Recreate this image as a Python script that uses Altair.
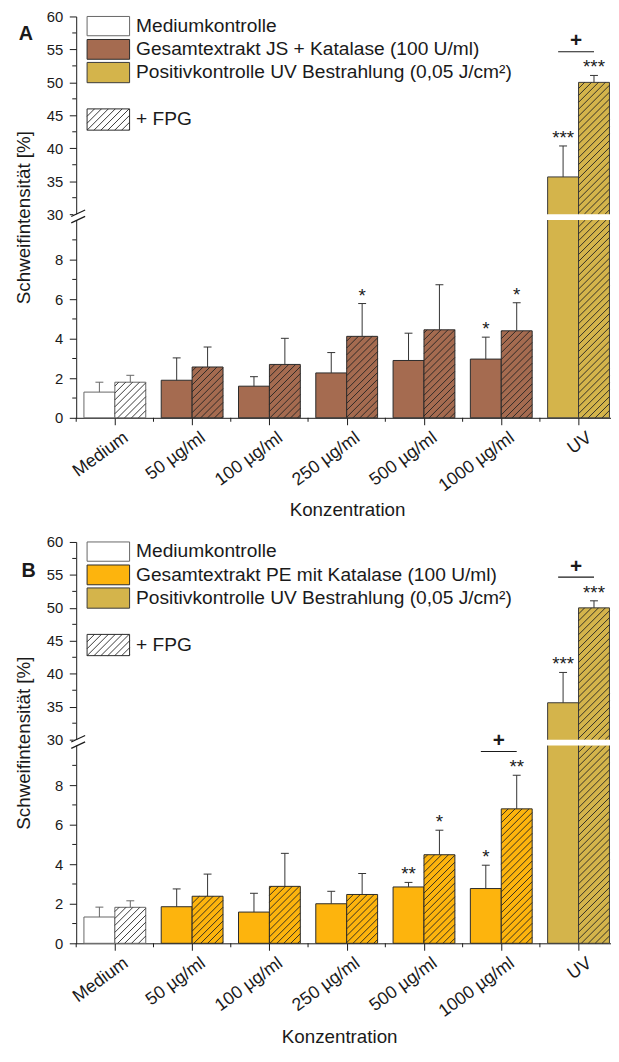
import json
import numpy as np
import pandas as pd
import altair as alt

# ---------------- data ----------------
groups = ["Medium", "50 µg/ml", "100 µg/ml", "250 µg/ml", "500 µg/ml", "1000 µg/ml", "UV"]

a_plain = [1.30, 1.90, 1.60, 2.27, 2.90, 2.97, 35.65]
a_plain_sd = [0.50, 1.13, 0.48, 1.03, 1.38, 1.11, 4.70]
a_fpg = [1.80, 2.57, 2.70, 4.12, 4.45, 4.40, 50.00]
a_fpg_sd = [0.35, 1.01, 1.32, 1.66, 2.28, 1.42, 1.05]

b_plain = [1.33, 1.85, 1.58, 2.00, 2.85, 2.77, 35.60]
b_plain_sd = [0.50, 0.90, 0.95, 0.63, 0.23, 1.18, 4.60]
b_fpg = [1.82, 2.38, 2.88, 2.47, 4.48, 6.80, 50.00]
b_fpg_sd = [0.33, 1.12, 1.67, 1.06, 1.24, 1.70, 1.07]

a_sig_group = [3, 5, 5, 6, 6]
a_sig_fpg = [1, 0, 1, 0, 1]
a_sig_text = ["*", "*", "*", "***", "***"]
b_sig_group = [4, 4, 5, 5, 6, 6]
b_sig_fpg = [0, 1, 0, 1, 0, 1]
b_sig_text = ["**", "*", "*", "**", "***", "***"]

a_plus_group = [6]
b_plus_group = [5, 6]

legend_a = ["Mediumkontrolle", "Gesamtextrakt JS + Katalase (100 U/ml)",
            "Positivkontrolle UV Bestrahlung (0,05 J/cm²)", "+ FPG"]
legend_b = ["Mediumkontrolle", "Gesamtextrakt PE mit Katalase (100 U/ml)",
            "Positivkontrolle UV Bestrahlung (0,05 J/cm²)", "+ FPG"]

# ---------------- layout / style ----------------
FONT = "Liberation Sans"
INK = "#1a1a1a"
W, H = 541, 406
XMIN, XMAX = -0.5, 6.42
PXU = W / (XMAX - XMIN)
Y_DOMAIN = [0, 10, 30, 60]
Y_RANGE = [H, 206, 200, 0]
BW = 0.4
UV_COLOR = "#D4B44B"
JS_COLOR = "#A56B50"
PE_COLOR = "#FDB40D"

xs = alt.Scale(domain=[XMIN, XMAX], nice=False, zero=False)
ys = alt.Scale(domain=Y_DOMAIN, range=Y_RANGE, nice=False, zero=False)


def px2x(p):
    return XMIN + p / PXU


def x2px(v):
    return (v - XMIN) * PXU


def y2px(v):
    return float(np.interp(v, Y_DOMAIN, Y_RANGE))


def px2y(p):
    return float(np.interp(p, Y_RANGE[::-1], Y_DOMAIN[::-1]))


def hatch_px(xp0, xp1, yp0, yp1, step=7.0):
    segs = []
    k0 = int(np.floor((xp0 + yp0) / step))
    k1 = int(np.ceil((xp1 + yp1) / step))
    for k in range(k0, k1 + 1):
        c = k * step
        xa = max(xp0, c - yp1)
        xb = min(xp1, c - yp0)
        if xb - xa > 0.8:
            segs.append((xa, c - xa, xb, c - xb))
    return segs


label_expr = json.dumps(groups, ensure_ascii=False) + "[datum.value]"


def panel(letter, plain, plain_sd, fpg, fpg_sd, ext_color, sig_g, sig_f, sig_t,
          plus_g, legend_texts, letter_px, xt_x, xt_y):
    x_axis = alt.Axis(values=list(range(len(groups))), labelExpr=label_expr, labelAngle=324,
                      labelAlign="right", labelBaseline="middle", labelOffset=11, labelPadding=11,
                      labelFontSize=18, labelFont=FONT, labelColor=INK, labelFlush=False,
                      labelOverlap=False, tickSize=7, tickColor=INK, domainColor=INK,
                      grid=False, title="Konzentration", titleFont=FONT, titleFontSize=19,
                      titleFontWeight="normal", titleColor=INK, titleX=xt_x, titleY=xt_y,
                      titleAlign="center", titleBaseline="middle")
    y_axis = alt.Axis(values=[0, 2, 4, 6, 8, 30, 35, 40, 45, 50, 55, 60], labelFontSize=15,
                      labelFont=FONT, labelColor=INK, labelPadding=6.5, labelFlush=False,
                      tickSize=7, tickColor=INK, domainColor=INK, grid=False,
                      title="Schweifintensität [%]", titleFont=FONT, titleFontSize=19,
                      titleFontWeight="normal", titleColor=INK, titleAngle=270,
                      titleX=-47, titleY=203, titleAlign="center", titleBaseline="alphabetic")

    def X(f):
        return alt.X(f, type="quantitative", scale=xs, axis=x_axis)

    def Y(f):
        return alt.Y(f, type="quantitative", scale=ys, axis=y_axis)

    rows = []
    for i, g in enumerate(groups):
        for k, (vals, sds) in enumerate([(plain, plain_sd), (fpg, fpg_sd)]):
            if i == 0:
                fill, stroke, ecol = "#ffffff", "#666666", "#666666"
            elif i == len(groups) - 1:
                fill, stroke, ecol = UV_COLOR, "#3a3a3a", "#333333"
            else:
                fill, stroke, ecol = ext_color, "#2a2a2a", "#333333"
            x0 = i - BW + k * BW
            rows.append(dict(idx=i, fpg=k, x0=x0, x1=x0 + BW, cx=x0 + BW / 2, zero=0.0,
                             mean=vals[i], top=vals[i] + sds[i], fill=fill,
                             stroke=stroke, ecol=ecol))
    bars = pd.DataFrame(rows)

    # hatching of the +FPG bars
    hrows = []
    for r in rows:
        if r["fpg"] != 1:
            continue
        v = r["mean"]
        pieces = [(0.0, min(v, 10.0))] + ([(30.0, v)] if v > 30 else [])
        for lo, hi in pieces:
            for xa, ya, xb, yb in hatch_px(x2px(r["x0"]), x2px(r["x1"]), y2px(hi), y2px(lo)):
                hrows.append(dict(hx=px2x(xa), hy=px2y(ya), hx2=px2x(xb), hy2=px2y(yb)))
    hatch = pd.DataFrame(hrows)

    gap = pd.DataFrame({"lo": [10.0], "hi": [30.0]})

    sig = pd.DataFrame([
        dict(cx=bars[(bars.idx == g) & (bars.fpg == f)].cx.iloc[0],
             top=bars[(bars.idx == g) & (bars.fpg == f)].top.iloc[0], label=t)
        for g, f, t in zip(sig_g, sig_f, sig_t)])

    prow = []
    for g in plus_g:
        p = bars[(bars.idx == g) & (bars.fpg == 0)].iloc[0]
        q = bars[(bars.idx == g) & (bars.fpg == 1)].iloc[0]
        ly = px2y(y2px(max(p.top, q.top)) - 24)
        xa = px2x(x2px(p.cx) - 5)
        xb = q.cx
        prow.append(dict(xa=xa, xb=xb, xm=(xa + xb) / 2, ly=ly))
    plus = pd.DataFrame(prow)

    # custom legend (pixel layout converted to data units)
    box_x0, box_x1, text_x = 11, 54, 60.5
    box_y = [(-0.5, 19.5), (23.3, 43.3), (46.5, 67.0), (93.5, 115.0)]
    fills = ["#ffffff", ext_color, UV_COLOR, "#ffffff"]
    strokes = ["#666666", "#2a2a2a", "#3a3a3a", "#2a2a2a"]
    leg_rect = pd.DataFrame([dict(x0=px2x(box_x0), x1=px2x(box_x1), y0=px2y(a), y1=px2y(b),
                                  fill=f, stroke=s) for (a, b), f, s in zip(box_y, fills, strokes)])
    leg_text = pd.DataFrame([dict(x=px2x(text_x), y=px2y((a + b) / 2), t=t)
                             for (a, b), t in zip(box_y, legend_texts)])
    leg_h = pd.DataFrame([dict(hx=px2x(xa), hy=px2y(ya), hx2=px2x(xb), hy2=px2y(yb))
                          for xa, ya, xb, yb in hatch_px(box_x0, box_x1, box_y[3][0], box_y[3][1])])

    brk = pd.DataFrame([dict(x=px2x(-5), y=px2y(c + 3.3), x2=px2x(9), y2=px2y(c - 3.3))
                        for c in (199.0, 205.5)])
    let = pd.DataFrame([dict(x=px2x(letter_px[0]), y=px2y(letter_px[1]), t=letter)])

    minor_y = pd.DataFrame({"v": [1, 3, 5, 7, 9, 32.5, 37.5, 42.5, 47.5, 52.5, 57.5]})
    minor_x = pd.DataFrame({"v": [-0.5 + i for i in range(len(groups))]})

    base_bars = alt.Chart(bars).mark_rect(strokeWidth=1).encode(
        x=X("x0"), x2=alt.X2("x1"),
        y=Y("zero"), y2=alt.Y2("mean"),
        color=alt.Color("fill:N", scale=None), stroke=alt.Stroke("stroke:N", scale=None))
    hatch_l = alt.Chart(hatch).mark_rule(strokeWidth=0.9, color="#222222").encode(
        x=X("hx"), y=Y("hy"), x2=alt.X2("hx2"), y2=alt.Y2("hy2"))
    gap_l = alt.Chart(gap).mark_rect(color="white").encode(
        x=alt.value(-3), x2=alt.value(W), y=Y("lo"), y2=alt.Y2("hi"))
    err = alt.Chart(bars).mark_rule(strokeWidth=1).encode(
        x=X("cx"), y=Y("mean"), y2=alt.Y2("top"), color=alt.Color("ecol:N", scale=None))
    cap = alt.Chart(bars).mark_rule(strokeWidth=1, xOffset=-4, x2Offset=4).encode(
        x=X("cx"), x2=alt.X2("cx"), y=Y("top"), color=alt.Color("ecol:N", scale=None))
    stars = alt.Chart(sig).mark_text(dy=-8, fontSize=19, font=FONT, baseline="middle",
                                     align="center", color=INK).encode(
        x=X("cx"), y=Y("top"), text="label:N")
    plus_line = alt.Chart(plus).mark_rule(strokeWidth=1.2, color=INK).encode(
        x=X("xa"), x2=alt.X2("xb"), y=Y("ly"))
    plus_text = alt.Chart(plus).mark_text(text="+", fontSize=21, fontWeight="bold", font=FONT,
                                          dy=-10.5, baseline="middle", align="center",
                                          color=INK).encode(x=X("xm"), y=Y("ly"))
    lrect = alt.Chart(leg_rect).mark_rect(strokeWidth=1).encode(
        x=X("x0"), x2=alt.X2("x1"), y=Y("y0"), y2=alt.Y2("y1"),
        color=alt.Color("fill:N", scale=None), stroke=alt.Stroke("stroke:N", scale=None))
    lhatch = alt.Chart(leg_h).mark_rule(strokeWidth=0.9, color="#222222").encode(
        x=X("hx"), y=Y("hy"), x2=alt.X2("hx2"), y2=alt.Y2("hy2"))
    ltext = alt.Chart(leg_text).mark_text(align="left", baseline="middle", fontSize=19.4,
                                          font=FONT, color=INK).encode(
        x=X("x"), y=Y("y"), text="t:N")
    brk_l = alt.Chart(brk).mark_rule(strokeWidth=1.2, color=INK).encode(
        x=X("x"), y=Y("y"), x2=alt.X2("x2"), y2=alt.Y2("y2"))
    let_l = alt.Chart(let).mark_text(fontSize=20, fontWeight="bold", font=FONT,
                                     baseline="middle", align="center", color=INK).encode(
        x=X("x"), y=Y("y"), text="t:N")
    my = alt.Chart(minor_y).mark_rule(color=INK).encode(
        x=alt.value(-4), x2=alt.value(0), y=Y("v"))
    mx = alt.Chart(minor_x).mark_rule(color=INK).encode(
        x=X("v"), y=alt.value(H), y2=alt.value(H + 4))

    return alt.layer(base_bars, hatch_l, gap_l, err, cap, stars, plus_line, plus_text,
                     lrect, lhatch, ltext, brk_l, let_l, my, mx).properties(width=W, height=H)


pA = panel("A", a_plain, a_plain_sd, a_fpg, a_fpg_sd, JS_COLOR, a_sig_group, a_sig_fpg,
           a_sig_text, a_plus_group, legend_a, (-51, 18), 274, 92.5)
pB = panel("B", b_plain, b_plain_sd, b_fpg, b_fpg_sd, PE_COLOR, b_sig_group, b_sig_fpg,
           b_sig_text, b_plus_group, legend_b, (-48, 29), 266, 94)

chart = alt.vconcat(pA, pB, spacing=125.6, bounds="flush").properties(
    padding={"left": 7, "top": -4.5, "right": 0, "bottom": 0},
    background="white",
).configure_view(stroke=None)

chart.save("out.html", embed_options={"renderer": "svg", "actions": False})
